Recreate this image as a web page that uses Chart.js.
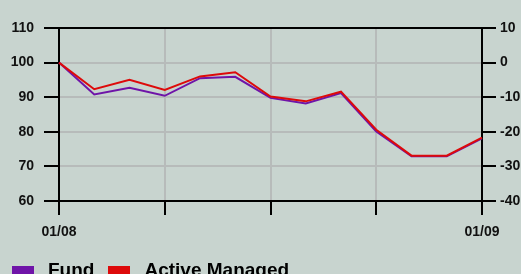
<!DOCTYPE html>
<html lang="en">
<head>
<meta charset="UTF-8">
<title>Fund vs Active Managed</title>
<script src="https://cdn.jsdelivr.net/npm/chart.js"></script>
<style>
  html, body { margin: 0; padding: 0; background: #c8d4cf; }
  #wrap { position: relative; width: 521px; height: 274px; overflow: hidden; }
  #legend { position: absolute; left: 12px; top: 259px; font: bold 19px "Liberation Sans", Arial, sans-serif; color: #000; white-space: nowrap; }
  #legend span.box { display: inline-block; width: 22px; height: 10px; vertical-align: middle; }
  #legend span.txt { margin-left: 14px; margin-right: 14px; }
</style>
</head>
<body>
<div id="wrap">
  <canvas id="chart" width="521" height="274"></canvas>
  <div id="legend"></div>
</div>
<script>
// months from 01/08 to 01/09
const months = ['01/08', '02/08', '03/08', '04/08', '05/08', '06/08', '07/08',
                '08/08', '09/08', '10/08', '11/08', '12/08', '01/09'];
const fundValues = [100, 90.8, 92.7, 90.4, 95.5, 95.9, 89.8, 88.2, 91.2, 80.1, 72.9, 72.9, 78.1];
const activeValues = [100, 92.3, 95.0, 92.1, 96.0, 97.2, 90.2, 88.8, 91.6, 80.6, 73.1, 73.1, 78.3];
const seriesNames = ['Fund', 'Active Managed'];
const seriesColors = ['#6f14a8', '#dd0a0a'];

const tickFont = { family: 'Liberation Sans', size: 14, weight: 'bold' };

// simple legend under the chart
const legend = document.getElementById('legend');
seriesNames.forEach((name, i) => {
    legend.innerHTML += '<span class="box" style="background:' + seriesColors[i] + '"></span>' +
                        '<span class="txt">' + name + '</span>';
});

new Chart(document.getElementById('chart'), {
    type: 'line',
    data: {
        labels: months,
        datasets: [
            { label: seriesNames[0], data: fundValues, borderColor: seriesColors[0], borderWidth: 2,
              pointRadius: 0, tension: 0, order: 2, yAxisID: 'y' },
            { label: seriesNames[1], data: activeValues, borderColor: seriesColors[1], borderWidth: 2,
              pointRadius: 0, tension: 0, order: 1, yAxisID: 'y' }
        ]
    },
    options: {
        responsive: false,
        animation: false,
        layout: { padding: { top: 28, left: 0, right: 0, bottom: 0 } },
        plugins: { legend: { display: false }, tooltip: { enabled: false } },
        scales: {
            x: {
                offset: false,
                border: { display: true, color: '#000', width: 2 },
                grid: {
                    lineWidth: 2,
                    tickLength: 14,
                    color: c => (c.index % 3 === 0 && c.index > 0 && c.index < 12) ? '#b7bbba' : 'rgba(0,0,0,0)',
                    tickColor: c => c.index % 3 === 0 ? '#000' : 'rgba(0,0,0,0)'
                },
                ticks: {
                    autoSkip: false, maxRotation: 0, padding: 9, color: '#111', font: tickFont,
                    callback: (v, i) => (i === 0 || i === months.length - 1) ? months[i] : ''
                },
                afterFit: s => { s.height = 73; }
            },
            y: {
                position: 'left', min: 60, max: 110,
                border: { display: true, color: '#000', width: 2 },
                grid: {
                    lineWidth: 2, tickLength: 15,
                    color: c => (c.tick.value === 110 || c.tick.value === 60) ? '#000' : '#b7bbba',
                    tickColor: '#000'
                },
                ticks: { stepSize: 10, padding: 10, color: '#111', font: tickFont },
                afterFit: s => { s.width = 59; }
            },
            y2: {
                position: 'right', min: -40, max: 10,
                border: { display: true, color: '#000', width: 2 },
                grid: { drawOnChartArea: false, lineWidth: 2, tickLength: 14, tickColor: '#000' },
                ticks: { stepSize: 10, padding: 4, color: '#111', font: tickFont },
                afterFit: s => { s.width = 39; }
            }
        }
    }
});
</script>
</body>
</html>
